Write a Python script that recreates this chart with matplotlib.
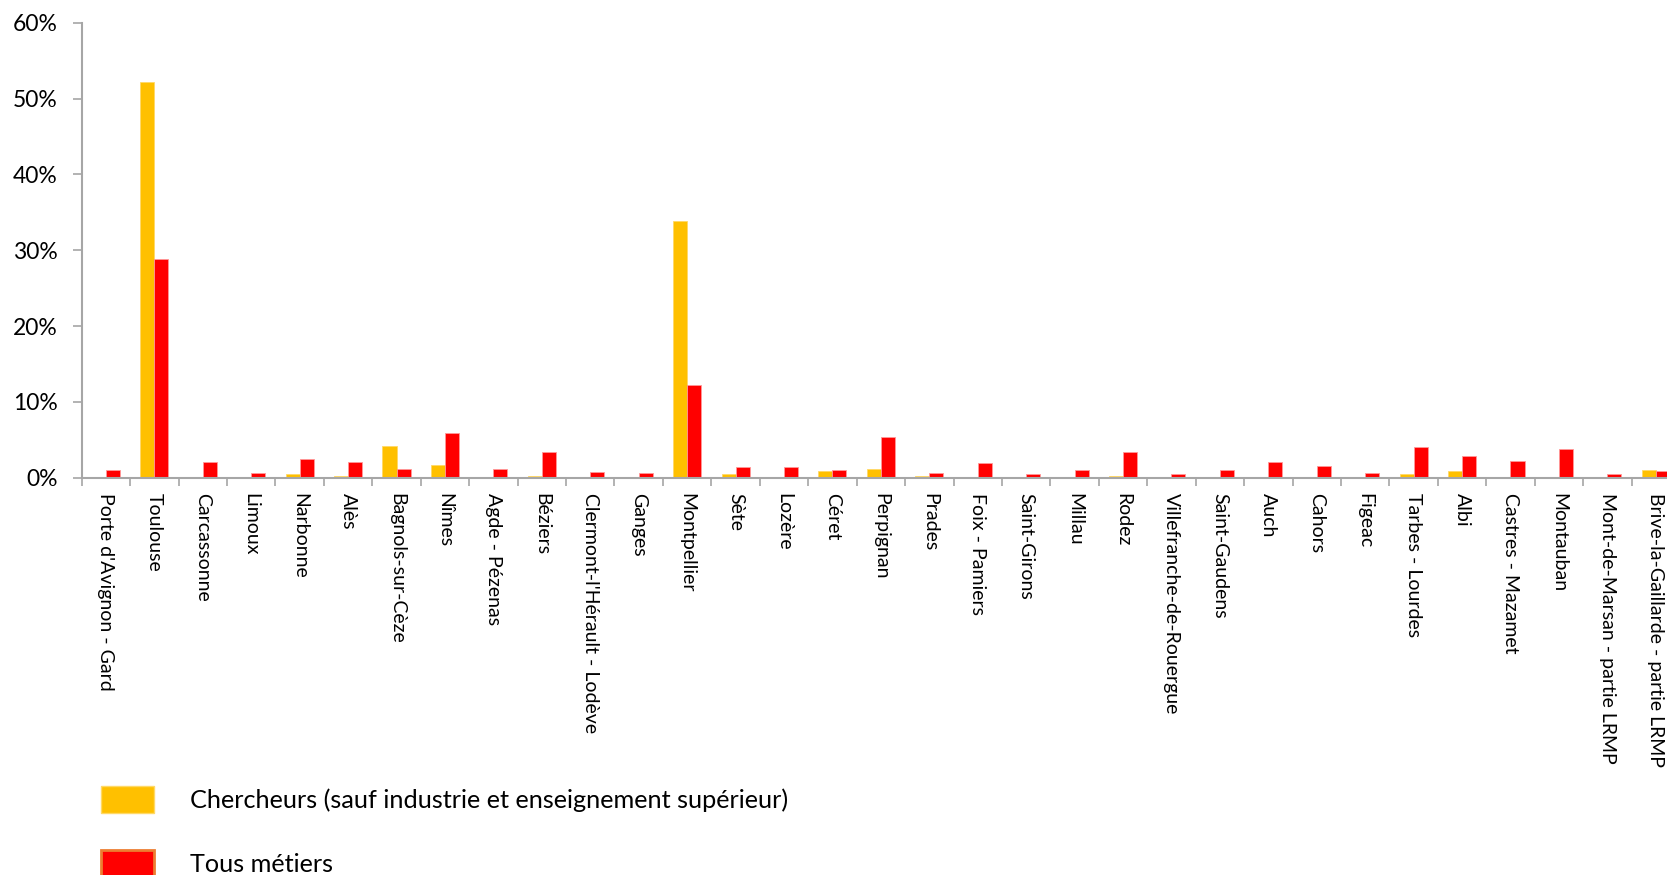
import matplotlib
matplotlib.use("Agg")
import matplotlib.pyplot as plt
from matplotlib.patches import Patch
from matplotlib.ticker import FuncFormatter, FixedLocator
import numpy as np

plt.rcParams['font.family'] = ['Lato', 'DejaVu Sans']

zones = ["Porte d'Avignon - Gard", "Toulouse", "Carcassonne", "Limoux", "Narbonne",
         "Alès", "Bagnols-sur-Cèze", "Nîmes", "Agde - Pézenas", "Béziers",
         "Clermont-l'Hérault - Lodève", "Ganges", "Montpellier", "Sète", "Lozère",
         "Céret", "Perpignan", "Prades", "Foix - Pamiers", "Saint-Girons", "Millau",
         "Rodez", "Villefranche-de-Rouergue", "Saint-Gaudens", "Auch", "Cahors",
         "Figeac", "Tarbes - Lourdes", "Albi", "Castres - Mazamet", "Montauban",
         "Mont-de-Marsan - partie LRMP", "Brive-la-Gaillarde - partie LRMP"]

# parts en %
chercheurs = [0.1, 52.2, 0.05, 0.03, 0.48, 0.22, 4.13, 1.67, 0.05, 0.22,
              0.03, 0.0, 33.9, 0.48, 0.0, 0.84, 1.14, 0.18, 0.05, 0.03, 0.05,
              0.22, 0.0, 0.02, 0.05, 0.03, 0.02, 0.48, 0.88, 0.03, 0.0, 0.0, 1.01]
tous_metiers = [0.95, 28.9, 2.07, 0.57, 2.46, 2.07, 1.14, 5.89, 1.1, 3.38,
                0.7, 0.57, 12.2, 1.36, 1.41, 0.97, 5.36, 0.62, 1.89, 0.48, 1.01,
                3.34, 0.53, 0.97, 2.07, 1.49, 0.62, 4.09, 2.86, 2.2, 3.78, 0.53, 0.88]

W, H = 1667, 875
fig = plt.figure(figsize=(W / 100, H / 100), dpi=100)
# the plot area runs a bit past the right edge, as in the source
ax = fig.add_axes([81.7 / W, (H - 477.7) / H, (1680 - 81.7) / W, 455 / H])

x = np.arange(len(zones))
bw = 0.29
ax.bar(x - bw / 2, chercheurs, bw, color='#FFC000', edgecolor='#FFD966', linewidth=0.6)
ax.bar(x + bw / 2, tous_metiers, bw, color='#FF0000', edgecolor='#FF9999', linewidth=0.6)

ax.set_xlim(-0.5, len(zones) - 0.5)
ax.set_ylim(0, 60)
ax.set_yticks(range(0, 61, 10))
ax.yaxis.set_major_formatter(FuncFormatter(lambda v, p: '%d%%' % v))

ax.set_xticks(x)
ax.set_xticklabels(zones, rotation=-90, fontsize=14, va='top', ha='center')
ax.xaxis.set_minor_locator(FixedLocator(np.arange(-0.5, len(zones), 1)))
ax.tick_params(axis='x', which='major', length=0, pad=11)
ax.tick_params(axis='x', which='minor', length=6, width=1.2, color='#A6A6A6', direction='out')
ax.tick_params(axis='y', length=6.5, width=1.2, color='#A6A6A6', labelsize=16.5, pad=11)

for s in ['top', 'right']:
    ax.spines[s].set_visible(False)
for s in ['left', 'bottom']:
    ax.spines[s].set_color('#A6A6A6')
    ax.spines[s].set_linewidth(1.5)

handles = [Patch(facecolor='#FFC000', edgecolor='#FFD966', linewidth=1),
           Patch(facecolor='#FF0000', edgecolor='#ED7D31', linewidth=2)]
fig.legend(handles, ['Chercheurs (sauf industrie et enseignement supérieur)', 'Tous métiers'],
           loc='upper left', bbox_to_anchor=(101 / W, (H - 786) / H), frameon=False,
           fontsize=18.2, handlelength=2.08, handleheight=1.24, handletextpad=1.45,
           labelspacing=1.5, borderpad=0, borderaxespad=0)

fig.savefig('out.png', dpi=100)
